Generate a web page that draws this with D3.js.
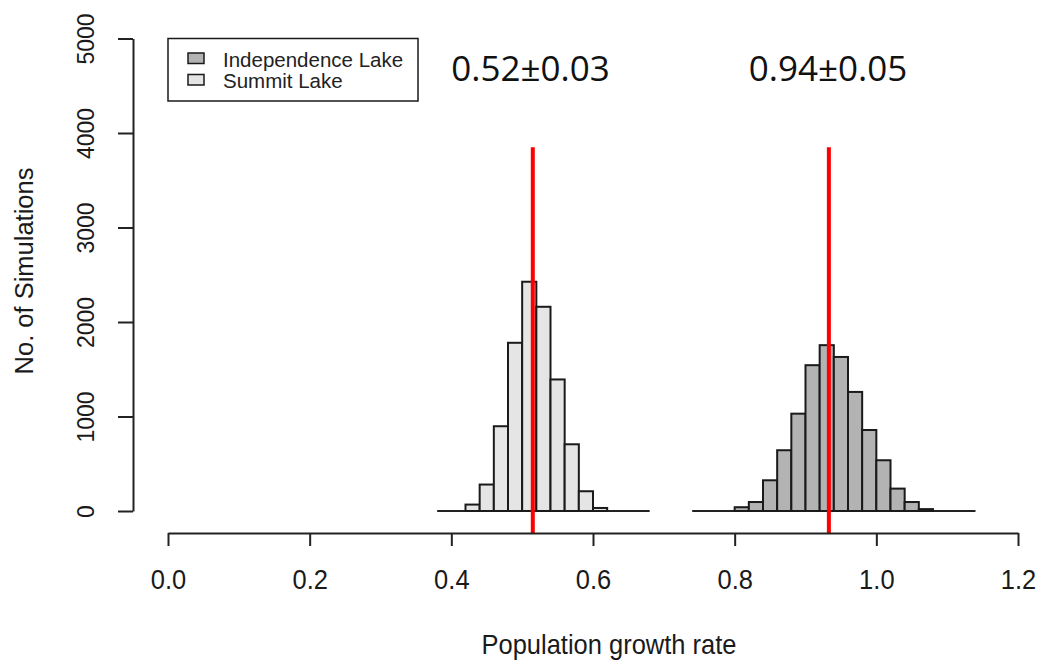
<!DOCTYPE html>
<html>
<head>
<meta charset="utf-8">
<script src="https://cdn.jsdelivr.net/npm/d3@7"></script>
<style>
  body { margin: 0; background: #fff; }
  svg { display: block; font-family: 'Liberation Sans', Arial, sans-serif; }
  .axis path, .axis line { stroke: #222; stroke-width: 2px; }
  .axis text { fill: #1a1a1a; }
</style>
</head>
<body>
<svg id="chart"></svg>
<script>
// histogram bins (lower edge) and counts, bin width 0.02
const binWidth = 0.02;
const summitX0 = [0.42, 0.44, 0.46, 0.48, 0.50, 0.52, 0.54, 0.56, 0.58, 0.60];
const summitCounts = [68, 280, 897, 1780, 2426, 2161, 1392, 706, 209, 32];
const independenceX0 = [0.80, 0.82, 0.84, 0.86, 0.88, 0.90, 0.92, 0.94, 0.96, 0.98, 1.00, 1.02, 1.04, 1.06];
const independenceCounts = [40, 95, 325, 643, 1030, 1543, 1755, 1630, 1260, 857, 537, 237, 95, 20];

// baseline extent drawn under each histogram
const summitBase = [0.38, 0.68];
const independenceBase = [0.74, 1.14];

// mean lines and their labels
const meanValues = [0.515, 0.933];
const meanLineTop = 3850;
const meanLabels = ['0.52±0.03', '0.94±0.05'];
const meanLabelX = [0.40, 0.82];

// axes
const xTicks = [0, 0.2, 0.4, 0.6, 0.8, 1.0, 1.2];
const yTicks = [0, 1000, 2000, 3000, 4000, 5000];

const legendNames = ['Independence Lake', 'Summit Lake'];
const legendFills = ['#b3b3b3', '#e5e5e5'];

class Histogram {

    constructor(_config) {
      this.config = {
        parentElement: _config.parentElement,
        containerWidth: _config.containerWidth || 1040,
        containerHeight: _config.containerHeight || 662
      }
      this.initVis();
    }

    initVis() {
      let vis = this;

      vis.svg = d3.select(vis.config.parentElement)
          .attr('width', vis.config.containerWidth)
          .attr('height', vis.config.containerHeight);

      vis.xScale = d3.scaleLinear()
          .domain([0, 1.2])
          .range([168, 1018]);

      vis.yScale = d3.scaleLinear()
          .domain([0, 5000])
          .range([511, 38.5]);

      // x axis sits a bit below the zero line, like base R
      vis.xAxisY = 533;
      vis.yAxisX = 133;

      vis.xAxis = d3.axisBottom(vis.xScale)
          .tickValues(xTicks)
          .tickFormat(d3.format('.1f'))
          .tickSize(13)
          .tickSizeOuter(0);

      vis.yAxis = d3.axisLeft(vis.yScale)
          .tickValues(yTicks)
          .tickFormat(d3.format('d'))
          .tickSize(15)
          .tickSizeOuter(0);

      vis.barsG = vis.svg.append('g');
      vis.linesG = vis.svg.append('g');

      vis.xAxisG = vis.svg.append('g')
          .attr('class', 'axis x-axis')
          .attr('transform', `translate(0,${vis.xAxisY})`);

      vis.yAxisG = vis.svg.append('g')
          .attr('class', 'axis y-axis')
          .attr('transform', `translate(${vis.yAxisX},0)`);

      // the source image is a little stretched vertically
      vis.svg.append('text')
          .attr('text-anchor', 'middle')
          .attr('transform', 'translate(609,654) scale(1,1.12)')
          .style('font-size', '25.5px')
          .style('fill', '#1a1a1a')
          .text('Population growth rate');

      vis.svg.append('text')
          .attr('text-anchor', 'middle')
          .attr('transform', 'translate(33,271) rotate(-90)')
          .style('font-size', '25.5px')
          .style('fill', '#1a1a1a')
          .text('No. of Simulations');
    }

    updateVis() {
      let vis = this;

      vis.series = [
        {name: 'Summit Lake', fill: legendFills[1], base: summitBase,
          bins: summitX0.map((x0, i) => ({x0: x0, x1: x0 + binWidth, count: summitCounts[i]}))},
        {name: 'Independence Lake', fill: legendFills[0], base: independenceBase,
          bins: independenceX0.map((x0, i) => ({x0: x0, x1: x0 + binWidth, count: independenceCounts[i]}))}
      ];

      vis.renderVis();
    }

    renderVis() {
      let vis = this;

      // baselines
      vis.barsG.selectAll('.base')
          .data(vis.series)
          .join('line')
          .attr('class', 'base')
          .attr('x1', d => vis.xScale(d.base[0]))
          .attr('x2', d => vis.xScale(d.base[1]))
          .attr('y1', vis.yScale(0))
          .attr('y2', vis.yScale(0))
          .attr('stroke', '#222')
          .attr('stroke-width', 2);

      // bars
      vis.barsG.selectAll('.hist')
          .data(vis.series)
          .join('g')
          .attr('class', 'hist')
        .selectAll('rect')
          .data(d => d.bins.map(b => Object.assign({fill: d.fill}, b)))
          .join('rect')
          .attr('x', d => vis.xScale(d.x0))
          .attr('width', d => vis.xScale(d.x1) - vis.xScale(d.x0))
          .attr('y', d => vis.yScale(d.count))
          .attr('height', d => vis.yScale(0) - vis.yScale(d.count))
          .attr('fill', d => d.fill)
          .attr('stroke', '#1a1a1a')
          .attr('stroke-width', 2);

      // red mean lines
      vis.linesG.selectAll('.mean')
          .data(meanValues)
          .join('line')
          .attr('class', 'mean')
          .attr('x1', d => vis.xScale(d))
          .attr('x2', d => vis.xScale(d))
          .attr('y1', vis.yScale(meanLineTop))
          .attr('y2', vis.xAxisY)
          .attr('stroke', '#ff0000')
          .attr('stroke-width', 4);

      vis.svg.selectAll('.mean-label')
          .data(meanLabels)
          .join('text')
          .attr('class', 'mean-label')
          .attr('x', (d, i) => vis.xScale(meanLabelX[i]))
          .attr('y', 81)
          .style('font-family', "'Open Sans', sans-serif")
          .style('font-size', '35px')
          .style('fill', '#111')
          .text(d => d);

      // axes
      vis.xAxisG.call(vis.xAxis);
      vis.xAxisG.selectAll('text')
          .attr('y', 0)
          .attr('dy', 0)
          .attr('transform', 'translate(0,56) scale(1,1.1)')
          .style('font-size', '25.5px');

      vis.yAxisG.call(vis.yAxis);
      vis.yAxisG.selectAll('text')
          .attr('x', 0)
          .attr('y', 0)
          .attr('dy', 0)
          .attr('text-anchor', 'middle')
          .attr('transform', 'translate(-39,0) rotate(-90)')
          .style('font-size', '23px');

      // legend
      const legend = vis.svg.append('g');
      legend.append('rect')
          .attr('x', 168)
          .attr('y', 38.5)
          .attr('width', 250)
          .attr('height', 62.5)
          .attr('fill', '#fff')
          .attr('stroke', '#1a1a1a')
          .attr('stroke-width', 1.5);

      const item = legend.selectAll('.item')
          .data(legendNames)
          .join('g')
          .attr('class', 'item')
          .attr('transform', (d, i) => `translate(0,${i * 21.5})`);

      item.append('rect')
          .attr('x', 188)
          .attr('y', 53)
          .attr('width', 16)
          .attr('height', 10.5)
          .attr('fill', (d, i) => legendFills[i])
          .attr('stroke', '#1a1a1a')
          .attr('stroke-width', 1.5);

      item.append('text')
          .attr('x', 223)
          .attr('y', 66.7)
          .style('font-size', '20.5px')
          .style('fill', '#222')
          .text(d => d);
    }
}

const hist = new Histogram({parentElement: '#chart'});
hist.updateVis();
</script>
</body>
</html>
